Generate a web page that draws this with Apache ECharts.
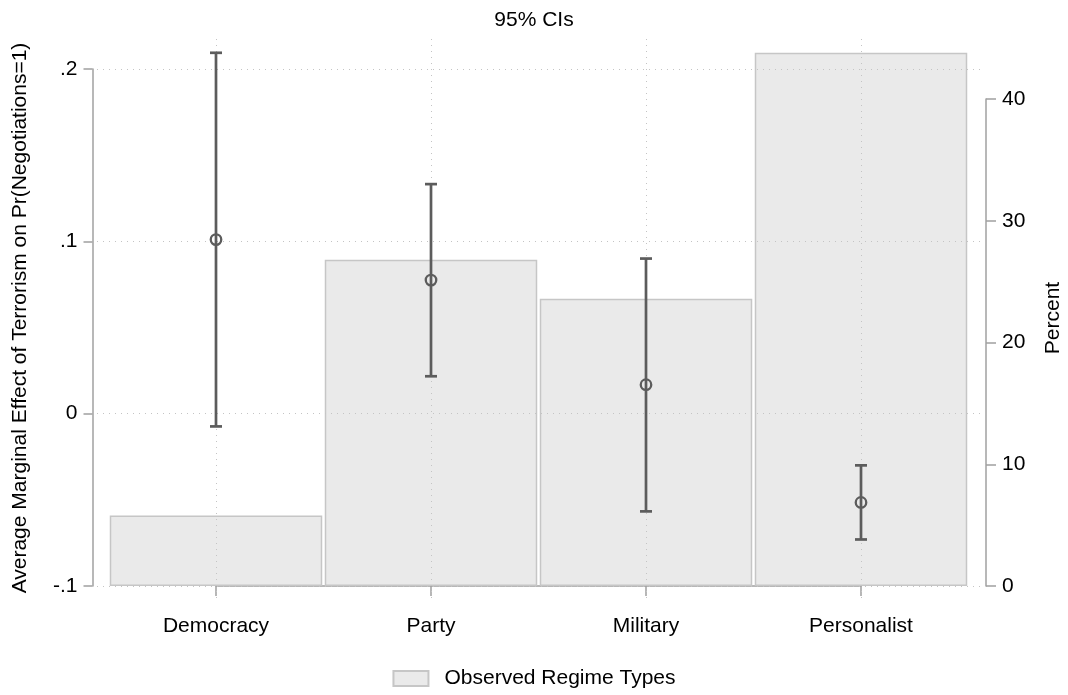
<!DOCTYPE html>
<html>
<head>
<meta charset="utf-8">
<title>Marginal effect of terrorism by regime type</title>
<script src="https://cdn.jsdelivr.net/npm/echarts@6/dist/echarts.min.js"></script>
<style>
  html, body { margin: 0; padding: 0; background: #ffffff; }
  #chart { width: 1068px; height: 695px; }
</style>
</head>
<body>
<div id="chart"></div>
<script>
// Regime types on the x axis
const categories = ['Democracy', 'Party', 'Military', 'Personalist'];

// Average marginal effect and 95% confidence bounds (left axis)
const effect = [0.101, 0.0775, 0.0168, -0.0515];
const ciLower = [-0.0074, 0.0217, -0.0567, -0.0730];
const ciUpper = [0.2094, 0.1332, 0.0900, -0.0300];

// Share of observations in each regime type, percent (right axis)
const observedPct = [5.8, 26.8, 23.6, 43.8];

// Tick labels
const leftTicks = [-0.1, 0, 0.1, 0.2];
const leftTickLabels = ['-.1', '0', '.1', '.2'];
const rightTicks = [0, 10, 20, 30, 40];

// Layout (pixels)
const FONT = "'Liberation Sans', Arial, Helvetica, sans-serif";
const FS = 21;
const plotLeft = 97, plotRight = 983, plotTop = 38, plotBottom = 598;
const bandLeft = 108.5, bandRight = 968.5;
const effTop = 69, effBottom = 586;
const pctTop = 99;
const band = (bandRight - bandLeft) / categories.length;
const effPerPx = (leftTicks[leftTicks.length - 1] - leftTicks[0]) / (effBottom - effTop);

// Frame grid that carries the dotted grid lines and the axis titles
const frameXMin = 0.5 - (bandLeft - plotLeft) / band;
const frameXMax = categories.length + 0.5 + (plotRight - bandRight) / band;
const frameYMin = leftTicks[0] - (plotBottom - effBottom) * effPerPx;
const frameYMax = leftTicks[leftTicks.length - 1] + (effTop - plotTop) * effPerPx;

const AXIS_COLOR = '#a0a0a0';
const GRID_COLOR = '#c4c4c4';
const MARK_COLOR = '#5c5c5c';

const gridLines = leftTicks.map(v => ({ yAxis: v }))
  .concat(categories.map((c, i) => ({ xAxis: i + 1 })));

const chart = echarts.init(document.getElementById('chart'), null, { renderer: 'canvas' });

chart.setOption({
  animation: false,
  backgroundColor: '#ffffff',
  textStyle: { fontFamily: FONT, color: '#000' },
  title: {
    text: '95% CIs',
    left: 'center',
    top: 5,
    textStyle: { fontFamily: FONT, fontSize: FS, fontWeight: 'normal', color: '#000' }
  },
  legend: {
    data: ['Observed Regime Types'],
    left: 'center',
    top: 663,
    icon: 'rect',
    itemWidth: 35,
    itemHeight: 15,
    selectedMode: false,
    textStyle: { fontFamily: FONT, fontSize: FS, color: '#000', padding: [0, 0, 0, 11] }
  },
  grid: [
    // 0: effects (left axis)
    { left: bandLeft, top: effTop, width: bandRight - bandLeft, height: effBottom - effTop, outerBoundsMode: 'none' },
    // 1: observed shares (right axis)
    { left: bandLeft, top: pctTop, width: bandRight - bandLeft, height: effBottom - pctTop, outerBoundsMode: 'none' },
    // 2: category axis, spanning first to last category
    { left: bandLeft + band / 2, top: effTop, width: band * (categories.length - 1), height: effBottom - effTop, outerBoundsMode: 'none' },
    // 3: full plot region
    { left: plotLeft, top: plotTop, width: plotRight - plotLeft, height: plotBottom - plotTop, outerBoundsMode: 'none' }
  ],
  xAxis: [
    { gridIndex: 0, type: 'category', data: categories, boundaryGap: true, show: false },
    { gridIndex: 1, type: 'category', data: categories, boundaryGap: true, show: false },
    {
      gridIndex: 2, type: 'category', data: categories, boundaryGap: false,
      position: 'bottom', offset: 16,
      axisLine: { show: true, lineStyle: { color: AXIS_COLOR, width: 1.5 } },
      axisTick: { show: true, length: 10, lineStyle: { color: AXIS_COLOR, width: 1.5 } },
      axisLabel: { show: true, margin: 14, fontFamily: FONT, fontSize: FS, color: '#000' },
      splitLine: { show: false }
    },
    { gridIndex: 3, type: 'value', min: frameXMin, max: frameXMax, show: false }
  ],
  yAxis: [
    {
      gridIndex: 0, type: 'value', min: leftTicks[0], max: leftTicks[leftTicks.length - 1], interval: 0.1,
      position: 'left', offset: bandLeft - 92.5,
      axisLine: { show: true, lineStyle: { color: AXIS_COLOR, width: 1.5 } },
      axisTick: { show: true, length: 9, lineStyle: { color: AXIS_COLOR, width: 1.5 } },
      axisLabel: {
        show: true, margin: 15, fontFamily: FONT, fontSize: FS, color: '#000',
        formatter: v => {
          const i = leftTicks.findIndex(t => Math.abs(t - v) < 1e-9);
          return i >= 0 ? leftTickLabels[i] : '';
        }
      },
      splitLine: { show: false }
    },
    {
      gridIndex: 1, type: 'value', min: rightTicks[0], max: rightTicks[rightTicks.length - 1], interval: 10,
      position: 'right', offset: 986 - bandRight,
      axisLine: { show: true, lineStyle: { color: AXIS_COLOR, width: 1.5 } },
      axisTick: { show: true, length: 10, lineStyle: { color: AXIS_COLOR, width: 1.5 } },
      axisLabel: { show: true, margin: 16, fontFamily: FONT, fontSize: FS, color: '#000' },
      splitLine: { show: false }
    },
    { gridIndex: 2, type: 'value', min: 0, max: 1, show: false },
    {
      gridIndex: 3, type: 'value', min: frameYMin, max: frameYMax, position: 'left',
      name: 'Average Marginal Effect of Terrorism on Pr(Negotiations=1)',
      nameLocation: 'middle', nameGap: 66,
      nameTextStyle: { fontFamily: FONT, fontSize: FS, color: '#000' },
      axisLine: { show: false }, axisTick: { show: false }, axisLabel: { show: false }, splitLine: { show: false }
    },
    {
      gridIndex: 3, type: 'value', min: frameYMin, max: frameYMax, position: 'right',
      name: 'Percent',
      nameLocation: 'middle', nameGap: 60,
      nameTextStyle: { fontFamily: FONT, fontSize: FS, color: '#000' },
      axisLine: { show: false }, axisTick: { show: false }, axisLabel: { show: false }, splitLine: { show: false }
    }
  ],
  series: [
    {
      name: 'Observed Regime Types',
      type: 'bar',
      xAxisIndex: 1, yAxisIndex: 1,
      data: observedPct,
      barWidth: band - 2.5,
      clip: false,
      z: 1,
      itemStyle: { color: '#eaeaea', borderColor: '#c6c6c6', borderWidth: 1.5 },
      emphasis: { disabled: true }
    },
    {
      name: 'grid',
      type: 'line',
      xAxisIndex: 3, yAxisIndex: 3,
      data: [],
      z: 2,
      markLine: {
        silent: true,
        z: 2,
        symbol: 'none',
        label: { show: false },
        lineStyle: { color: GRID_COLOR, width: 1, type: [1, 5] },
        data: gridLines
      }
    },
    {
      name: 'ci',
      type: 'custom',
      xAxisIndex: 0, yAxisIndex: 0,
      clip: false,
      z: 10,
      data: categories.map((c, i) => [i, ciLower[i], ciUpper[i]]),
      renderItem: (params, api) => {
        const lo = api.coord([api.value(0), api.value(1)]);
        const hi = api.coord([api.value(0), api.value(2)]);
        const cap = 6;
        const style = { stroke: MARK_COLOR, lineWidth: 2.7 };
        return {
          type: 'group',
          children: [
            { type: 'line', shape: { x1: lo[0], y1: lo[1], x2: hi[0], y2: hi[1] }, style },
            { type: 'line', shape: { x1: lo[0] - cap, y1: lo[1], x2: lo[0] + cap, y2: lo[1] }, style },
            { type: 'line', shape: { x1: hi[0] - cap, y1: hi[1], x2: hi[0] + cap, y2: hi[1] }, style }
          ]
        };
      }
    },
    {
      name: 'effect',
      type: 'scatter',
      xAxisIndex: 0, yAxisIndex: 0,
      clip: false,
      z: 11,
      symbol: 'circle',
      symbolSize: 10.5,
      data: categories.map((c, i) => [i, effect[i]]),
      itemStyle: { color: 'rgba(0,0,0,0)', borderColor: MARK_COLOR, borderWidth: 2.3, opacity: 1 },
      emphasis: { disabled: true }
    }
  ]
});
</script>
</body>
</html>
